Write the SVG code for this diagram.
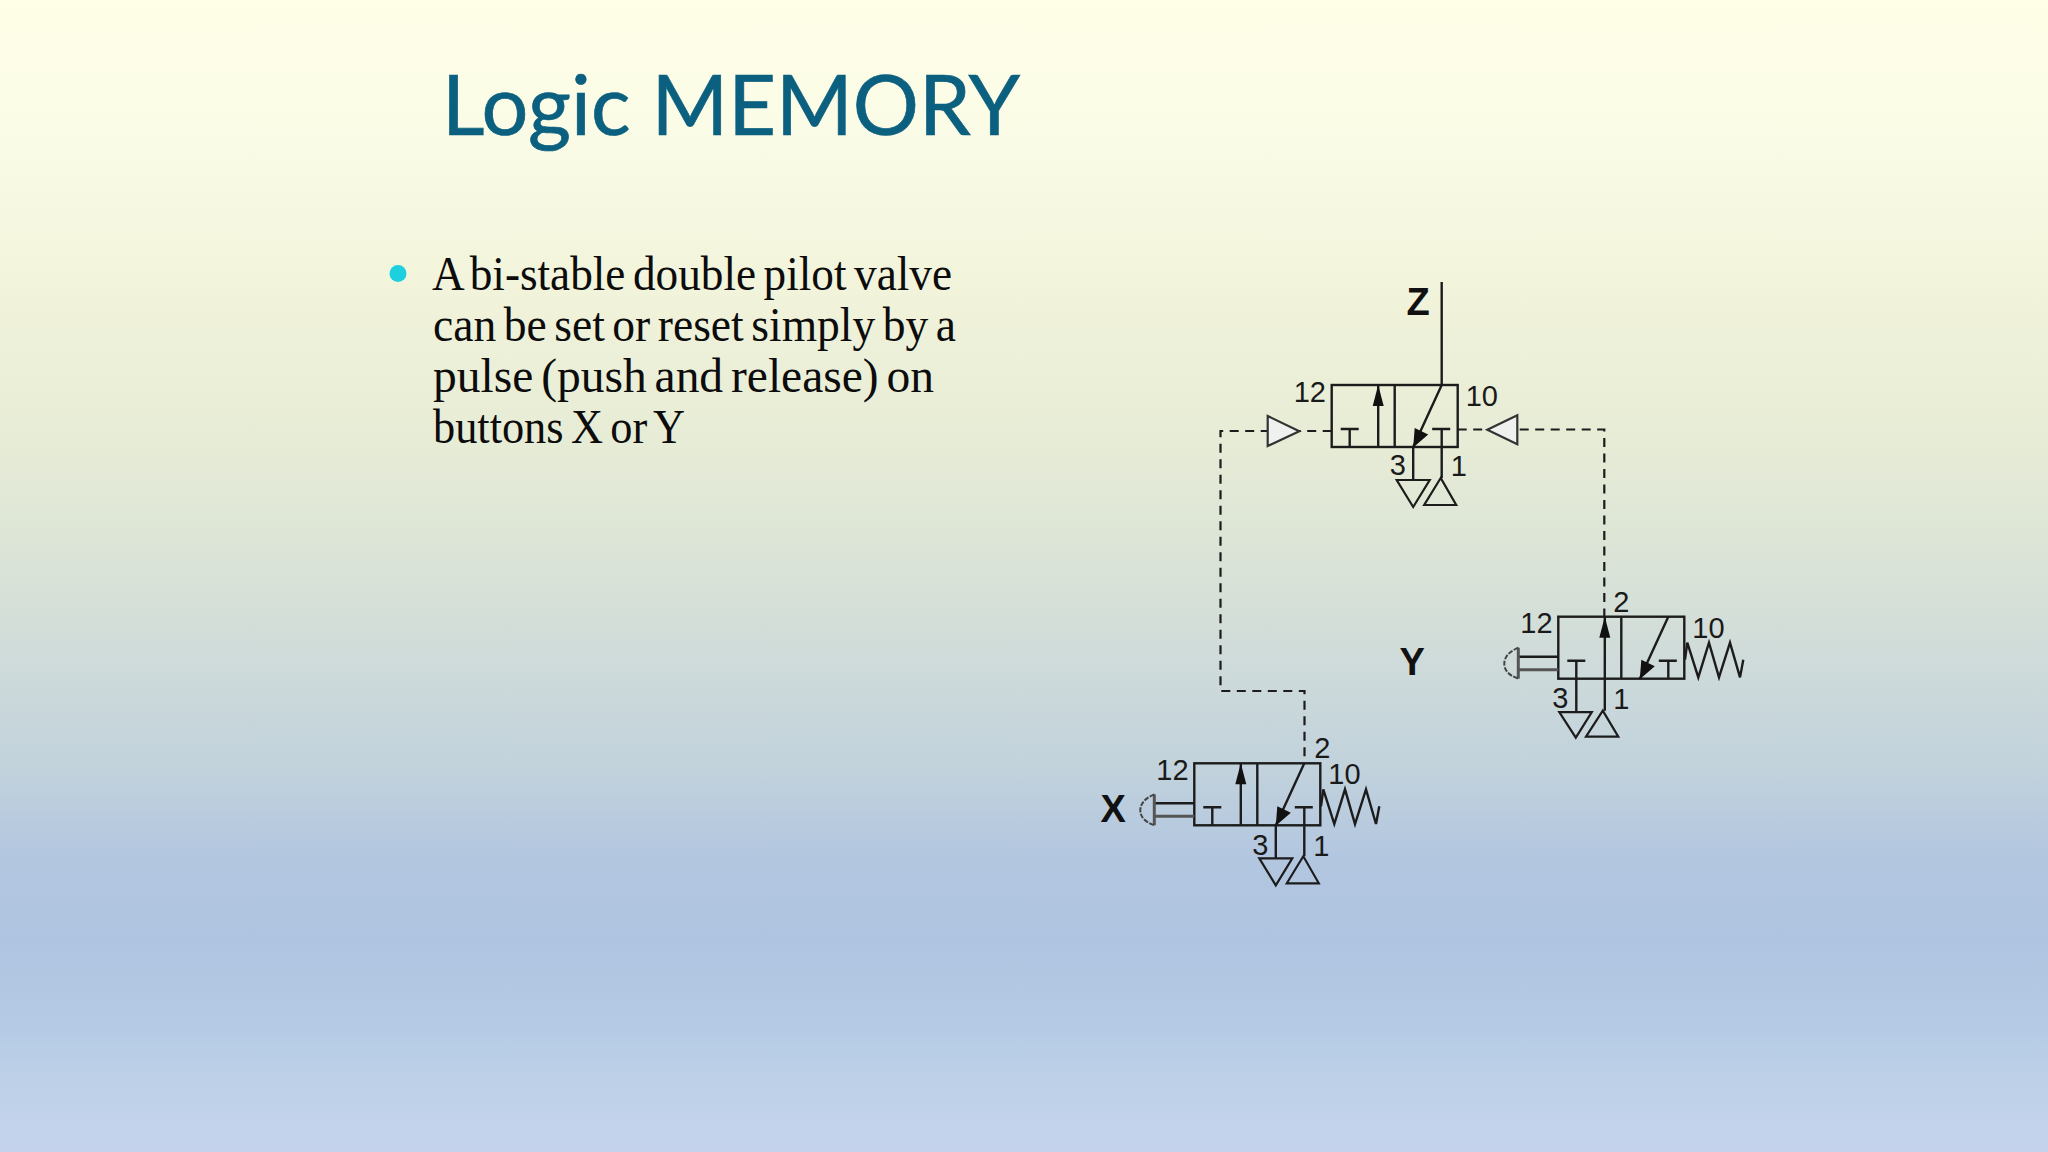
<svg xmlns="http://www.w3.org/2000/svg" xmlns:xlink="http://www.w3.org/1999/xlink" width="2048" height="1152" viewBox="0 0 2048 1152">
<style>
.ln{fill:none;stroke:#1c1c1c;stroke-width:2.4}
.tri{fill:none;stroke:#1c1c1c;stroke-width:2.2}
.pilot{fill:#eff1ee;stroke:#333;stroke-width:2.2}
.dash{fill:none;stroke:#1c1c1c;stroke-width:2.2;stroke-dasharray:9 6.5}
.hd{fill:#111;stroke:none}
.n{font-family:"Liberation Sans",Arial,sans-serif;font-size:29px;fill:#1a1a1a}
.b{font-family:"Liberation Sans",Arial,sans-serif;font-size:38px;font-weight:bold;fill:#111}
.body{font-family:"Liberation Serif","Times New Roman",serif;font-size:48px;word-spacing:-4px;fill:#0c0c0c}
.title{font-family:Lato,"Open Sans",sans-serif;font-size:84px;fill:#0b5f7f;stroke:#0b5f7f;stroke-width:.7}
</style>
<defs>
<linearGradient id="bg" x1="0" y1="0" x2="0" y2="1">
<stop offset="0" stop-color="#ffffe8"/>
<stop offset=".128" stop-color="#fafbe6"/>
<stop offset=".255" stop-color="#f1f3da"/>
<stop offset=".383" stop-color="#e7ecd6"/>
<stop offset=".478" stop-color="#dbe4d6"/>
<stop offset=".574" stop-color="#cfdbda"/>
<stop offset=".669" stop-color="#c1d2dc"/>
<stop offset=".747" stop-color="#b2c6e0"/>
<stop offset=".816" stop-color="#afc4e0"/>
<stop offset=".893" stop-color="#b5cbe5"/>
<stop offset=".925" stop-color="#bbcfe7"/>
<stop offset="1" stop-color="#c5d4ec"/>
</linearGradient>
<g id="body">
<rect class="ln" x="0" y="0" width="126" height="62"/>
<path class="ln" d="M63 0V62M46.500 0V62M18 62V44M9 44H27M110 0L81.500 62M110 62V44M100.500 44H118.500"/>
<path class="hd" d="M46.500 0L41 21H52Z"/>
<path class="hd" d="M81.500 62.500L83 43L96.500 49.500Z"/>
</g>
<g id="portsA">
<path class="ln" d="M81.500 62V95M110 62V93"/>
<path class="tri" d="M65 95H98L81.500 122ZM109 93L92.500 120H124.500Z"/>
</g>
<g id="portsB">
<path class="ln" d="M18 62V95M46.500 62V94"/>
<path class="tri" d="M1 95.500H33.500L17.500 121ZM44.500 94L27.700 120H60Z"/>
</g>
<g id="spring">
<path class="ln" d="M126.700 43L129 26L140 60.700L150.700 26L160.700 60.700L171.700 26L181.700 60.700L185 43"/>
</g>
<g id="button">
<path class="ln" d="M-40 40H0"/>
<path d="M-40 53H0" fill="none" stroke="#555" stroke-width="3"/>
<path d="M-40 31V62" fill="none" stroke="#555" stroke-width="3"/>
<path d="M-40 31Q-54 37 -54 47Q-54 57 -40 62" fill="none" stroke="#444" stroke-width="2" stroke-dasharray="5 1.500"/>
</g>
</defs>
<rect id="background" x="0" y="0" width="2048" height="1152" fill="url(#bg)"/>
<g id="heading">
<text class="title" x="442" y="135" textLength="578" lengthAdjust="spacingAndGlyphs">Logic MEMORY</text>
</g>
<g id="bullet-text">
<circle cx="398" cy="273.500" r="8.500" fill="#1cd0e0"/>
<text class="body" x="432" y="290" textLength="520" lengthAdjust="spacingAndGlyphs">A bi-stable double pilot valve</text>
<text class="body" x="433" y="341" textLength="523" lengthAdjust="spacingAndGlyphs">can be set or reset simply by a</text>
<text class="body" x="433" y="392" textLength="501" lengthAdjust="spacingAndGlyphs">pulse (push and release) on</text>
<text class="body" x="433" y="443" textLength="252" lengthAdjust="spacingAndGlyphs">buttons X or Y</text>
</g>
<g id="connectors">
<path id="output-z" class="ln" d="M1441.700 282V385"/>
<path id="pilot-x" class="dash" d="M1331.700 431H1220.500V691H1304.500V763"/>
<path id="pilot-y" class="dash" d="M1457.700 429.500H1604.300V617"/>
</g>
<g id="valve-z" transform="translate(1331.700 385)">
<use href="#body" xlink:href="#body"/>
<use href="#portsA" xlink:href="#portsA"/>
<text class="n" x="-38" y="17">12</text>
<text class="n" x="134" y="21">10</text>
<text class="n" x="58" y="90">3</text>
<text class="n" x="119" y="91">1</text>
</g>
<g id="pilot-left"><path class="pilot" d="M1267.700 416L1299.300 431.300L1267.700 446Z"/></g>
<g id="pilot-right"><path class="pilot" d="M1517.300 415.300L1487.300 429.700L1517.300 444.300Z"/></g>
<g id="valve-y" transform="translate(1558.300 616.700)">
<use href="#body" xlink:href="#body"/>
<use href="#portsB" xlink:href="#portsB"/>
<use href="#spring" xlink:href="#spring"/>
<use href="#button" xlink:href="#button"/>
<text class="n" x="-38" y="16.500">12</text>
<text class="n" x="134" y="21">10</text>
<text class="n" x="55" y="-5">2</text>
<text class="n" x="-6" y="91">3</text>
<text class="n" x="55" y="92">1</text>
</g>
<g id="valve-x" transform="translate(1194.300 763.300)">
<use href="#body" xlink:href="#body"/>
<use href="#portsA" xlink:href="#portsA"/>
<use href="#spring" xlink:href="#spring"/>
<use href="#button" xlink:href="#button"/>
<text class="n" x="-38" y="16.500">12</text>
<text class="n" x="134" y="21">10</text>
<text class="n" x="120" y="-5">2</text>
<text class="n" x="58" y="92">3</text>
<text class="n" x="119" y="93">1</text>
</g>
<g id="label-z"><text class="b" x="1406.500" y="315">Z</text></g>
<g id="label-y"><text class="b" x="1399.500" y="675">Y</text></g>
<g id="label-x"><text class="b" x="1100.500" y="822">X</text></g>
</svg>
